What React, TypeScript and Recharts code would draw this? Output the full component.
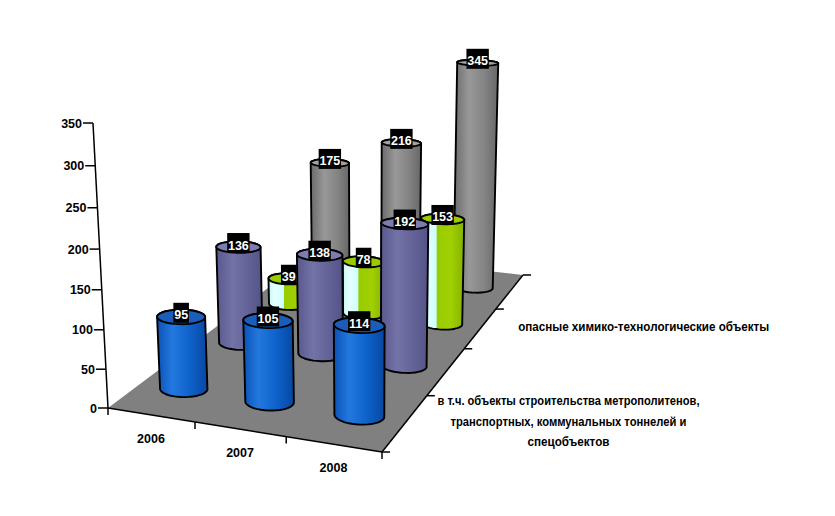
import React from 'react'
import { ComposedChart, Bar, XAxis, YAxis, Customized } from 'recharts'

// values, one list per depth row (front to back)
const years = ['2006', '2007', '2008']
const metroTunnels = [95, 105, 114]
const slateRow = [136, 138, 192]
const chemicalObjects = [39, 78, 153]
const grayRow = [175, 216, 345]
const valueTicks = [0, 50, 100, 150, 200, 250, 300, 350]
const yearTicks = [0.5, 1.5, 2.5]
// only every second depth label is printed in the original
const depthLabels: (string[] | null)[] = [
  ['в т.ч. объекты строительства метрополитенов,', 'транспортных, коммунальных тоннелей и', 'спецобъектов'],
  null,
  ['опасные химико-технологические объекты'],
  null,
]
// printed widths of those label lines in the original (Excel squeezes them)
const depthLabelWidths: (number[] | null)[] = [[262, 236, 82], null, [251], null]

const rows = years.map((year, i) => ({
  pos: i + 0.5,
  year,
  metro: metroTunnels[i],
  slate: slateRow[i],
  chem: chemicalObjects[i],
  gray: grayRow[i],
}))

const W = 819
const H = 500
const FONT = "'Liberation Sans', Arial, sans-serif"
const CATS = 3
const DEPTH = 4
const Y_MAX = 350
// front plane of the box, as laid out by the recharts axes
const PLOT = { left: 100, top: 115, width: 274, height: 285 }
const RX = 0.26
const RZ = 0.15

// perspective camera for the 3d box (page pixels)
const CAM = {
  ox: 108, oy: 408,
  xx: 82.47, xy: 4.18,
  zx: 81.33, zy: -15.65,
  yx: -0.0574, yy: -0.8334,
  wx: -0.0232, wz: 0.0928, wy: -0.000156,
}
const PAGE = 8

type Pt = [number, number]

function project(cx: number, cz: number, v: number): Pt {
  const w = 1 + CAM.wx * cx + CAM.wz * cz + CAM.wy * v
  const nx = CAM.ox + CAM.xx * cx + CAM.zx * cz + CAM.yx * v
  const ny = CAM.oy + CAM.xy * cx + CAM.zy * cz + CAM.yy * v
  return [nx / w - PAGE, ny / w - PAGE]
}

function hull(points: Pt[]): Pt[] {
  const p = [...points].sort((a, b) => a[0] - b[0] || a[1] - b[1])
  const cross = (o: Pt, a: Pt, b: Pt) => (a[0] - o[0]) * (b[1] - o[1]) - (a[1] - o[1]) * (b[0] - o[0])
  const lower: Pt[] = []
  for (const q of p) {
    while (lower.length >= 2 && cross(lower[lower.length - 2], lower[lower.length - 1], q) <= 0) lower.pop()
    lower.push(q)
  }
  const upper: Pt[] = []
  for (let i = p.length - 1; i >= 0; i--) {
    const q = p[i]
    while (upper.length >= 2 && cross(upper[upper.length - 2], upper[upper.length - 1], q) <= 0) upper.pop()
    upper.push(q)
  }
  upper.pop()
  lower.pop()
  return lower.concat(upper)
}

const pts = (list: Pt[]) => list.map(p => `${p[0].toFixed(1)},${p[1].toFixed(1)}`).join(' ')

type Look = { id: string; stops: [number, string][]; top: string }

const LOOKS: Record<string, Look> = {
  metro: {
    id: 'g-metro',
    stops: [[0, '#0a52b6'], [0.3, '#2378de'], [0.65, '#0e62ca'], [1, '#0847a0']],
    top: '#1b5dba',
  },
  slate: {
    id: 'g-slate',
    stops: [[0, '#58588c'], [0.35, '#7373a7'], [1, '#535388']],
    top: '#7c7cae',
  },
  chem: {
    id: 'g-chem',
    stops: [[0, '#c4f6f6'], [0.15, '#e8ffff'], [0.37, '#ccffff'], [0.38, '#99cc00'], [0.7, '#a0d000'], [1, '#85b200']],
    top: '#99cc00',
  },
  gray: {
    id: 'g-gray',
    stops: [[0, '#6a6a6a'], [0.35, '#989898'], [0.7, '#838383'], [1, '#676767']],
    top: '#a2a2a2',
  },
}

const series = [
  { key: 'gray', row: 3 },
  { key: 'chem', row: 2 },
  { key: 'slate', row: 1 },
  { key: 'metro', row: 0 },
]

function cylinder(row: number, dataKey: string) {
  const look = LOOKS[dataKey]
  return function Cylinder(props: any) {
    const { x, width, height, payload } = props
    if (height == null || !payload) return null
    const cx = ((x + width / 2) - PLOT.left) / PLOT.width * CATS
    const cz = row + 0.5
    const v = height / PLOT.height * Y_MAX
    const ring = (level: number) =>
      Array.from({ length: 40 }, (_, k) => {
        const t = (k / 40) * Math.PI * 2
        return project(cx + RX * Math.cos(t), cz + RZ * Math.sin(t), level)
      })
    const base = ring(0)
    const top = ring(v)
    const body = hull(base.concat(top))
    const [tx, ty] = project(cx, cz, v)
    const text = String(payload[dataKey])
    const boxW = text.length * 6.8 + 2
    return (
      <g>
        <polygon points={pts(body)} fill={`url(#${look.id})`} stroke="#000" strokeWidth={1.9} strokeLinejoin="round" />
        <polygon points={pts(top)} fill={look.top} stroke="#000" strokeWidth={1.9} strokeLinejoin="round" />
        <rect x={tx - boxW / 2} y={ty - 14} width={boxW} height={20} fill="#000" />
        <text x={tx} y={ty + 2.5} textAnchor="middle" fill="#fff" fontWeight="bold" fontSize={12.5} fontFamily={FONT}>
          {text}
        </text>
      </g>
    )
  }
}

function FloorPlane() {
  const corners = [project(0, 0, 0), project(CATS, 0, 0), project(CATS, DEPTH, 0), project(0, DEPTH, 0)]
  const a0 = project(0, 0, 0)
  const a1 = project(0, 0, Y_MAX)
  const front = Array.from({ length: CATS + 1 }, (_, i) => project(i, 0, 0))
  const side = Array.from({ length: DEPTH + 1 }, (_, i) => project(CATS, i, 0))
  return (
    <g>
      <defs>
        {Object.values(LOOKS).map(l => (
          <linearGradient key={l.id} id={l.id} x1="0" y1="0" x2="1" y2="0">
            {l.stops.map(([o, c], i) => <stop key={i} offset={o} stopColor={c} />)}
          </linearGradient>
        ))}
      </defs>
      <polygon points={pts(corners)} fill="#808080" />
      <line x1={a0[0]} y1={a0[1]} x2={a1[0]} y2={a1[1]} stroke="#000" strokeWidth={1.5} />
      <polyline points={pts([front[0], front[CATS]])} stroke="#000" strokeWidth={1.5} fill="none" />
      {front.map((p, i) => (
        <line key={'f' + i} x1={p[0]} y1={p[1]} x2={p[0]} y2={p[1] + 7} stroke="#000" strokeWidth={1.5} />
      ))}
      <polyline points={pts([side[0], side[DEPTH]])} stroke="#000" strokeWidth={1.5} fill="none" />
      {side.map((p, i) => (
        <line key={'s' + i} x1={p[0]} y1={p[1]} x2={p[0] + 8} y2={p[1]} stroke="#000" strokeWidth={1.5} />
      ))}
      {depthLabels.map((lines, r) => {
        if (!lines) return null
        const widths = depthLabelWidths[r] || []
        const [ex, ey] = project(CATS, r + 0.5, 0)
        const lh = 20.5
        const first = ey - 1 - ((lines.length - 1) * lh) / 2 + 4
        return (
          <g key={'d' + r}>
            {lines.map((ln, k) => (
              <text
                key={k}
                x={ex + 163}
                y={first + k * lh}
                textAnchor="middle"
                fontSize={12}
                fontWeight="bold"
                fontFamily={FONT}
                fill="#000"
                textLength={widths[k]}
                lengthAdjust="spacingAndGlyphs"
              >
                {ln}
              </text>
            ))}
          </g>
        )
      })}
    </g>
  )
}

function ValueTick(props: any) {
  const { y, payload } = props
  const v = (PLOT.top + PLOT.height - y) / PLOT.height * Y_MAX
  const [sx, sy] = project(0, 0, v)
  return (
    <g>
      <line x1={sx - 10} y1={sy} x2={sx} y2={sy} stroke="#000" strokeWidth={1.5} />
      <text x={sx - 11} y={sy + 4.5} textAnchor="end" fontSize={12.5} fontWeight="bold" fontFamily={FONT} fill="#000">
        {payload.value}
      </text>
    </g>
  )
}

function YearTick(props: any) {
  const { x, payload } = props
  const cx = (x - PLOT.left) / PLOT.width * CATS
  const [sx, sy] = project(cx, 0, 0)
  return (
    <text x={sx} y={sy + 28} textAnchor="middle" fontSize={12.5} fontWeight="bold" fontFamily={FONT} fill="#000">
      {years[Math.floor(payload.value)]}
    </text>
  )
}

export default function App() {
  return (
    <ComposedChart
      width={W}
      height={H}
      data={rows}
      margin={{
        top: PLOT.top,
        left: PLOT.left - 1,
        right: W - PLOT.left - PLOT.width,
        bottom: H - PLOT.top - PLOT.height - 1,
      }}
    >
      <Customized component={FloorPlane} />
      {series.map(s => (
        <XAxis
          key={'x-' + s.key}
          xAxisId={s.key}
          type="number"
          dataKey="pos"
          domain={[0, CATS]}
          ticks={yearTicks}
          interval={0}
          hide={s.key !== 'metro'}
          height={1}
          axisLine={false}
          tickLine={false}
          tick={<YearTick />}
        />
      ))}
      <YAxis
        type="number"
        domain={[0, Y_MAX]}
        ticks={valueTicks}
        interval={0}
        width={1}
        axisLine={false}
        tickLine={false}
        tick={<ValueTick />}
      />
      {series.map(s => (
        <Bar
          key={s.key}
          xAxisId={s.key}
          dataKey={s.key}
          barSize={10}
          shape={cylinder(s.row, s.key)}
          isAnimationActive={false}
        />
      ))}
    </ComposedChart>
  )
}
